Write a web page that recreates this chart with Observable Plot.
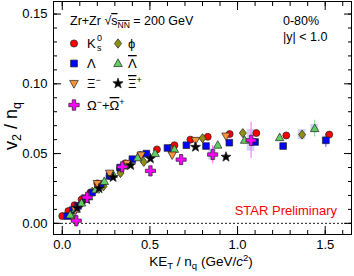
<!DOCTYPE html>
<html><head><meta charset="utf-8">
<script src="https://cdn.jsdelivr.net/npm/d3@7"></script>
<script src="https://cdn.jsdelivr.net/npm/@observablehq/plot@0.6"></script>
<style>
body{margin:0;background:#fff;}
#chart{position:relative;width:354px;height:276px;}
</style></head><body><div id="chart"></div>
<script>
// ---- data (KE_T/n_q , v2/n_q) ----
const k0sX = [0.00, 0.035, 0.07, 0.11, 0.16, 0.20, 0.27, 0.33, 0.36, 0.445, 0.54, 0.64, 0.731, 0.83, 0.955, 1.107, 1.278, 1.523];
const k0sY = [0.0052, 0.0088, 0.013, 0.017, 0.022, 0.0286, 0.034, 0.039, 0.043, 0.049, 0.053, 0.056, 0.060, 0.062, 0.064, 0.0647, 0.063, 0.0636];
const k0sE = [0,0,0,0,0,0,0,0,0,0,0,0,0,0,0.001,0.001,0.001,0.0015];

const phiX = [0.057, 0.11, 0.171, 0.235, 0.332, 0.465, 0.615, 0.80, 1.03, 1.368];
const phiY = [0.0047, 0.0143, 0.0226, 0.0265, 0.036, 0.044, 0.0536, 0.061, 0.0647, 0.0636];
const phiE = [0,0,0,0,0,0,0,0,0.001,0.002];

const lamX = [0.028, 0.06, 0.09, 0.13, 0.17, 0.22, 0.27, 0.33, 0.40, 0.48, 0.60, 0.708, 0.82, 0.953, 1.10, 1.26, 1.504];
const lamY = [0.0052, 0.0095, 0.0125, 0.018, 0.022, 0.028, 0.034, 0.040, 0.046, 0.050, 0.054, 0.056, 0.0554, 0.0578, 0.0583, 0.0554, 0.0595];
const lamE = [0,0,0,0,0,0,0,0,0,0,0,0,0,0,0.001,0.0015,0.005];

const alamX = [0.045, 0.075, 0.11, 0.15, 0.19, 0.24, 0.29, 0.35, 0.43, 0.53, 0.64, 0.887, 1.04, 1.24, 1.44];
const alamY = [0.006, 0.010, 0.0145, 0.019, 0.024, 0.030, 0.035, 0.041, 0.047, 0.050, 0.053, 0.056, 0.0595, 0.0614, 0.0679];
const alamE = [0,0,0,0,0,0,0,0,0,0,0,0,0.001,0.0015,0.006];

const xiX = [0.075, 0.13, 0.20, 0.27, 0.37, 0.45, 0.627, 0.76, 0.934];
const xiY = [0.0095, 0.018, 0.0286, 0.036, 0.043, 0.049, 0.049, 0.0595, 0.0626];
const xiE = [0,0,0,0,0,0,0,0,0];

const axiX = [0.085, 0.14, 0.21, 0.29, 0.39, 0.503, 0.76, 0.934];
const axiY = [0.011, 0.017, 0.025, 0.033, 0.0416, 0.0464, 0.0547, 0.0476];
const axiE = [0,0,0,0,0,0,0,0.001];

const omX = [0.08, 0.142, 0.342, 0.503, 0.678, 0.858, 1.077];
const omY = [0.0019, 0.0186, 0.0405, 0.0376, 0.0457, 0.0493, 0.0595];
const omE = [0.005, 0.0015, 0.0015, 0.002, 0.002, 0.0065, 0.0129];

// systematic boxes (series, index, half height)
const sysSeries = ["Omega", "Omega", "phi", "Lambda", "antiLambda"];
const sysIndex  = [5, 6, 9, 16, 14];
const sysSize   = [0.004, 0.0078, 0.0036, 0.003, 0.003];

const yMajor = [0.00, 0.05, 0.10, 0.15];
const xMajor = [0.0, 0.5, 1.0, 1.5];

// ---- symbols ----
const R = (s) => Math.sqrt(s / Math.PI);
const symDiamond = {draw(c, s){const r=R(s); c.moveTo(0,-1.3*r); c.lineTo(r,0); c.lineTo(0,1.3*r); c.lineTo(-r,0); c.closePath();}};
const symSquare = {draw(c, s){const h=0.95*R(s); c.moveTo(-h,-h); c.lineTo(h,-h); c.lineTo(h,h); c.lineTo(-h,h); c.closePath();}};
const symTriUp = {draw(c, s){const r=R(s); c.moveTo(0,-1.3*r); c.lineTo(1.2*r,0.85*r); c.lineTo(-1.2*r,0.85*r); c.closePath();}};
const symTriDown = {draw(c, s){const r=R(s); c.moveTo(0,1.3*r); c.lineTo(1.2*r,-0.85*r); c.lineTo(-1.2*r,-0.85*r); c.closePath();}};
const symStar = {draw(c, s){const r=R(s); const ro=1.5*r, ri=0.62*r;
  for(let i=0;i<10;i++){const a=-Math.PI/2+i*Math.PI/5; const rr=i%2?ri:ro; const x=rr*Math.cos(a), y=rr*Math.sin(a); if(i===0) c.moveTo(x,y); else c.lineTo(x,y);} c.closePath();}};
const symCross = {draw(c, s){const r=R(s); const L=1.45*r, t=0.48*r;
  c.moveTo(-t,-L); c.lineTo(t,-L); c.lineTo(t,-t); c.lineTo(L,-t); c.lineTo(L,t); c.lineTo(t,t); c.lineTo(t,L); c.lineTo(-t,L); c.lineTo(-t,t); c.lineTo(-L,t); c.lineTo(-L,-t); c.lineTo(-t,-t); c.closePath();}};
const symCircle = {draw(c, s){const r=R(s); c.moveTo(r,0); c.arc(0,0,r,0,2*Math.PI);}};

const series = [
  {name:"K0s", xs:k0sX, ys:k0sY, es:k0sE, symbol:symCircle, fill:"#ff0000", err:"#ff6666"},
  {name:"phi", xs:phiX, ys:phiY, es:phiE, symbol:symDiamond, fill:"#8f8f10", err:"#b0b050"},
  {name:"Lambda", xs:lamX, ys:lamY, es:lamE, symbol:symSquare, fill:"#0000ff", err:"#4d4dff"},
  {name:"antiLambda", xs:alamX, ys:alamY, es:alamE, symbol:symTriUp, fill:"#5fcf5f", err:"#7fdf7f"},
  {name:"Xi", xs:xiX, ys:xiY, es:xiE, symbol:symTriDown, fill:"#f7943a", err:"#f7b070"},
  {name:"antiXi", xs:axiX, ys:axiY, es:axiE, symbol:symStar, fill:"#000000", err:"#555555"},
  {name:"Omega", xs:omX, ys:omY, es:omE, symbol:symCross, fill:"#ff00ff", err:"#ff66ff"}
];
const rows = s => s.xs.map((x,i)=>({x, y:s.ys[i], e:s.es[i]}));

const sysRows = sysSeries.map((n,i)=>{const s=series.find(d=>d.name===n); const j=sysIndex[i];
  return {x:s.xs[j], y:s.ys[j], h:sysSize[i]};});

const marks = [
  Plot.ruleY([0], {stroke:"black", strokeWidth:0.9, strokeDasharray:"2,2"}),
  Plot.rect(sysRows, {x1:d=>d.x-0.022, x2:d=>d.x+0.022, y1:d=>d.y-d.h, y2:d=>d.y+d.h, fill:"#c8c8f4", fillOpacity:0.8})
];
for (const s of series) {
  const r = rows(s).filter(d=>d.e>0);
  marks.push(Plot.ruleX(r, {x:"x", y1:d=>d.y-d.e, y2:d=>d.y+d.e, stroke:s.err, strokeWidth:1}));
}
for (const s of series) {
  marks.push(Plot.dot(rows(s), {x:"x", y:"y", symbol:s.symbol, r:3.5, fill:s.fill, stroke:"#222", strokeWidth:0.7}));
}
const yMinor = d3.range(0, 0.16, 0.01).map(v=>+v.toFixed(3));
const xMinor = d3.range(0, 1.65, 0.1).map(v=>+v.toFixed(2));
marks.push(
  Plot.axisY(yMajor, {anchor:"left", tickSize:0, tickPadding:6, tickFormat:d3.format(".2f"), label:null, fontSize:13}),
  Plot.axisY(yMajor, {anchor:"left", tickSize:-8, tickFormat:()=>"", label:null}),
  Plot.axisY(yMinor, {anchor:"left", tickSize:-4, tickFormat:()=>"", label:null}),
  Plot.axisY(yMajor, {anchor:"right", tickSize:-8, tickFormat:()=>"", label:null}),
  Plot.axisY(yMinor, {anchor:"right", tickSize:-4, tickFormat:()=>"", label:null}),
  Plot.axisX(xMajor, {anchor:"bottom", tickSize:0, tickPadding:5, tickFormat:d3.format(".1f"), label:null, fontSize:13}),
  Plot.axisX(xMajor, {anchor:"bottom", tickSize:-8, tickFormat:()=>"", label:null}),
  Plot.axisX(xMinor, {anchor:"bottom", tickSize:-4, tickFormat:()=>"", label:null}),
  Plot.axisX(xMajor, {anchor:"top", tickSize:-8, tickFormat:()=>"", label:null}),
  Plot.axisX(xMinor, {anchor:"top", tickSize:-4, tickFormat:()=>"", label:null}),
  Plot.frame({stroke:"black", strokeWidth:1})
);

const chart = Plot.plot({
  width:354, height:276,
  marginLeft:53, marginRight:3, marginTop:1, marginBottom:42,
  style:{fontFamily:"'Liberation Sans', Arial, sans-serif", fontSize:"13px", background:"white", color:"black", overflow:"visible"},
  x:{domain:[-0.05, 1.65]},
  y:{domain:[-0.008, 0.159]},
  marks
});
document.getElementById("chart").appendChild(chart);

// ---- texts & legend ----
const svg = d3.select(chart);
const F = "'Liberation Sans', Arial, sans-serif";
function txt(x, y, size, fill){ return svg.append("text").attr("x",x).attr("y",y).attr("text-anchor","start").attr("font-family",F).attr("font-size",size).attr("fill",fill||"black"); }

// x title
{ const t = txt(201, 266, 13.5).attr("text-anchor","middle");
  t.append("tspan").text("KE");
  t.append("tspan").attr("font-size",9.5).attr("dy",3).text("T");
  t.append("tspan").attr("dy",-3).text(" / n");
  t.append("tspan").attr("font-size",9.5).attr("dy",3).text("q");
  t.append("tspan").attr("dy",-3).text(" (GeV/");
  t.append("tspan").attr("font-style","italic").text("c");
  t.append("tspan").attr("font-size",9.5).attr("dy",-5).text("2");
  t.append("tspan").attr("dy",5).text(")");
}
// y title
{ const t = svg.append("text").attr("transform","translate(17,126) rotate(-90)").attr("text-anchor","middle")
    .attr("font-family",F).attr("font-size",18);
  t.append("tspan").text("v");
  t.append("tspan").attr("font-size",12.5).attr("dy",4).text("2");
  t.append("tspan").attr("dy",-4).text(" / n");
  t.append("tspan").attr("font-size",12.5).attr("dy",4).text("q");
}
// header
{ const t = txt(70, 25, 12.5);
  t.append("tspan").text("Zr+Zr ");
  t.append("tspan").text("\u221A");
  t.append("tspan").attr("text-decoration","overline").text("s");
  t.append("tspan").attr("font-size",8.5).attr("dy",3).attr("text-decoration","overline").text("NN");
  t.append("tspan").attr("dy",-3).text(" = 200 GeV");
}
txt(283, 25, 12.5).text("0-80%");
txt(283, 41, 12.5).text("|y| < 1.0");
txt(337, 215, 13, "#ff0000").attr("text-anchor","end").text("STAR Preliminary");

// legend
const legX1 = 74, legX2 = 118, lab = 13;
const legRows = [
  [series[0], legX1, 43.5], [series[1], legX2, 43.5],
  [series[2], legX1, 63.5], [series[3], legX2, 63.5],
  [series[4], legX1, 83.5], [series[5], legX2, 83.5],
  [series[6], legX1, 105]
];
for (const [s, x, y] of legRows) {
  svg.append("path").attr("transform",`translate(${x},${y})`)
    .attr("d", d3.symbol(s.symbol, Math.PI*3.6*3.6)()).attr("fill", s.fill).attr("stroke","#222").attr("stroke-width",0.7);
}
{ // K0s
  const t = txt(legX1+13, 48, lab); t.append("tspan").text("K");
  txt(legX1+23, 41, 9).text("0"); txt(legX1+23, 51, 9).text("s");
}
txt(legX2+10, 48, lab).text("\u03D5");
txt(legX1+13, 68, lab).text("\u039B");
txt(legX2+10, 68, lab).attr("text-decoration","overline").text("\u039B");
{ const t = txt(legX1+13, 88, lab); t.append("tspan").text("\u039E"); t.append("tspan").attr("font-size",9).attr("dy",-5).text("\u2212"); }
{ const t = txt(legX2+10, 88, lab); t.append("tspan").attr("text-decoration","overline").text("\u039E"); t.append("tspan").attr("font-size",9).attr("dy",-5).text("+"); }
{ const t = txt(legX1+13, 110, lab);
  t.append("tspan").text("\u03A9");
  t.append("tspan").attr("font-size",9).attr("dy",-5).text("\u2212");
  t.append("tspan").attr("dy",5).text("+");
  t.append("tspan").attr("text-decoration","overline").text("\u03A9");
  t.append("tspan").attr("font-size",9).attr("dy",-5).text("+");
}
</script></body></html>
